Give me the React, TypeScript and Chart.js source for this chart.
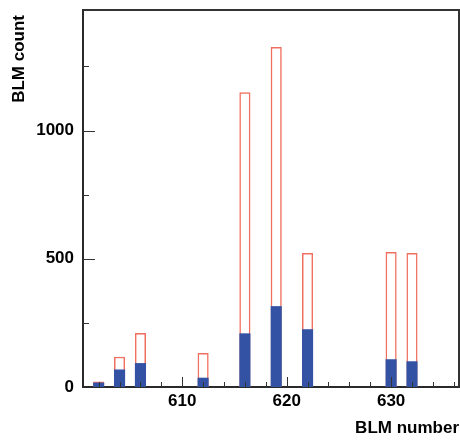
import React, { useEffect, useRef } from 'react';
import { Chart, registerables } from 'chart.js';

Chart.register(...registerables);

// Categories (BLM number bins, one unit wide)
const categories = [
  '601', '602', '603', '604', '605', '606', '607', '608', '609', '610',
  '611', '612', '613', '614', '615', '616', '617', '618', '619', '620',
  '621', '622', '623', '624', '625', '626', '627', '628', '629', '630',
  '631', '632', '633', '634', '635', '636',
];
// BLMs that have entries
const blmNumbers = [602, 604, 606, 612, 616, 619, 622, 630, 632];
// Red outlined histogram (all)
const allCounts = [20, 117, 209, 131, 1148, 1324, 521, 525, 521];
// Blue filled histogram (subset)
const subsetCounts = [16, 67, 92, 35, 208, 314, 224, 107, 99];

// Axis ticks
const xTickValues = [602, 604, 606, 608, 610, 612, 614, 616, 618, 620, 622, 624, 626, 628, 630, 632, 634, 636];
const xLabeled = [610, 620, 630];
const yTickValues = [0, 250, 500, 750, 1000, 1250];
const yLabeled = [0, 500, 1000];
const yMax = 1470;
const yTitle = 'BLM count';
const xTitle = 'BLM number';

const FONT_FAMILY = '"Liberation Sans", Arial, sans-serif';

const toSeries = (vals: number[]) =>
  categories.map((c) => {
    const i = blmNumbers.indexOf(Number(c));
    return i >= 0 ? vals[i] : null;
  });

const frameTicks = {
  id: 'frameTicks',
  afterDraw(chart: any) {
    const { ctx, chartArea: a, scales } = chart;
    const x = scales.x;
    const y = scales.y;
    ctx.save();
    ctx.strokeStyle = '#333';
    ctx.lineWidth = 1;
    xTickValues.forEach((v) => {
      const idx = categories.indexOf(String(v));
      const px = Math.round(x.getPixelForValue(idx)) + 0.5;
      const len = xLabeled.includes(v) ? 10 : 5;
      ctx.beginPath();
      ctx.moveTo(px, a.bottom);
      ctx.lineTo(px, a.bottom - len);
      ctx.stroke();
    });
    yTickValues.forEach((v) => {
      if (v === 0) return;
      const py = Math.round(y.getPixelForValue(v)) + 0.5;
      const len = yLabeled.includes(v) ? 12 : 6;
      ctx.beginPath();
      ctx.moveTo(a.left, py);
      ctx.lineTo(a.left + len, py);
      ctx.stroke();
    });
    ctx.lineWidth = 2;
    ctx.strokeStyle = '#333';
    ctx.beginPath();
    ctx.moveTo(a.left, a.top);
    ctx.lineTo(a.right, a.top);
    ctx.lineTo(a.right, a.bottom);
    ctx.stroke();

    // y-axis title, rotated, right-aligned slightly below the frame top
    ctx.fillStyle = '#000';
    ctx.font = `bold 17px ${FONT_FAMILY}`;
    ctx.translate(19, a.top + 5);
    ctx.rotate(-Math.PI / 2);
    ctx.textAlign = 'right';
    ctx.textBaseline = 'middle';
    ctx.fillText(yTitle, 0, 0);
    ctx.restore();
  },
};

export default function App() {
  const ref = useRef<HTMLCanvasElement | null>(null);

  useEffect(() => {
    if (!ref.current) return;
    const font = { family: FONT_FAMILY, size: 17, weight: 'bold' as const };
    const chart = new Chart(ref.current, {
      type: 'bar',
      data: {
        labels: categories,
        datasets: [
          {
            label: 'subset',
            data: toSeries(subsetCounts),
            backgroundColor: '#3452a4',
            borderWidth: 0,
            order: 0,
            categoryPercentage: 1,
            barPercentage: 1,
          },
          {
            label: 'all',
            data: toSeries(allCounts),
            backgroundColor: '#ffffff',
            borderColor: '#f0705f',
            borderWidth: 1.5,
            order: 1,
            categoryPercentage: 1,
            barPercentage: 1,
          },
        ],
      },
      options: {
        responsive: false,
        animation: false,
        layout: { padding: { top: 10, right: 1, left: 0, bottom: 0 } },
        plugins: { legend: { display: false }, tooltip: { enabled: false } },
        scales: {
          x: {
            stacked: true,
            offset: true,
            z: 1,
            grid: { display: false, drawTicks: false },
            border: { display: true, color: '#2a2a2a', width: 2 },
            ticks: {
              autoSkip: false,
              maxRotation: 0,
              padding: 4,
              color: '#000',
              font,
              callback: (_v: any, i: number) =>
                xLabeled.includes(Number(categories[i])) ? categories[i] : '',
            },
            title: {
              display: true,
              text: xTitle,
              align: 'end',
              color: '#000',
              font,
              padding: { top: 0, bottom: 2 },
            },
            afterFit: (s: any) => {
              s.height = 54;
              s.paddingLeft = 0;
              s.paddingRight = 0;
            },
          },
          y: {
            min: 0,
            max: yMax,
            z: 1,
            grid: { display: false, drawTicks: false },
            border: { display: true, color: '#2a2a2a', width: 2 },
            ticks: {
              autoSkip: false,
              padding: 9,
              color: '#000',
              font,
              callback: (v: any) => (yLabeled.includes(Number(v)) ? String(v) : ''),
            },
            afterBuildTicks: (s: any) => {
              s.ticks = yTickValues.map((v) => ({ value: v }));
            },
            title: { display: false },
            afterFit: (s: any) => {
              s.width = 83;
              s.paddingTop = 0;
              s.paddingBottom = 0;
            },
          },
        },
      },
      plugins: [frameTicks],
    });
    return () => chart.destroy();
  }, []);

  return (
    <div style={{ position: 'fixed', left: 0, top: 0, width: 460, height: 441, background: '#fff' }}>
      <canvas ref={ref} width={460} height={441} />
    </div>
  );
}
